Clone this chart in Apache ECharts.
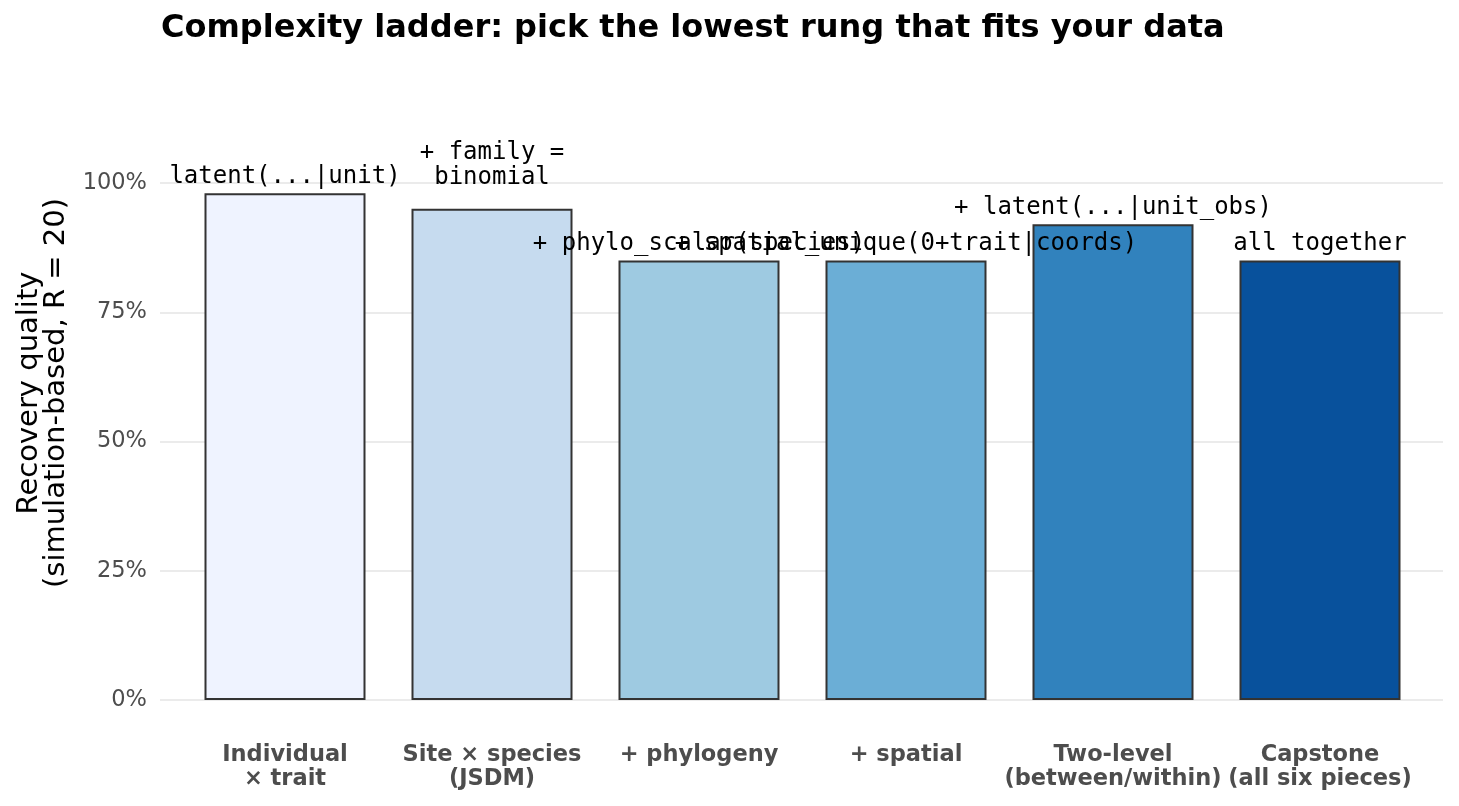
<!DOCTYPE html>
<html>
<head>
<meta charset="utf-8">
<script src="https://cdn.jsdelivr.net/npm/echarts@6/dist/echarts.min.js"></script>
<style>
html, body { margin: 0; padding: 0; background: #ffffff; }
#chart { width: 1459px; height: 806px; }
</style>
</head>
<body>
<div id="chart"></div>
<script>
// ---- data ----
const categories = [
  "Individual\n× trait",
  "Site × species\n(JSDM)",
  "+ phylogeny",
  "+ spatial",
  "Two-level\n(between/within)",
  "Capstone\n(all six pieces)"
];
const recovery = [0.98, 0.95, 0.85, 0.85, 0.92, 0.85];
const syntaxLabels = [
  "latent(...|unit)",
  "+ family =\nbinomial",
  "+ phylo_scalar(species)",
  "+ spatial_unique(0+trait|coords)",
  "+ latent(...|unit_obs)",
  "all together"
];
const yTicks = [0, 0.25, 0.5, 0.75, 1];
const yTitle = "Recovery quality\n(simulation-based, R = 20)";

// ---- styling ----
const barColors = ["#eff3ff", "#c6dbef", "#9ecae1", "#6baed6", "#3182bd", "#08519c"];
const SANS = "DejaVu Sans";
const MONO = "DejaVu Sans Mono";

const chart = echarts.init(document.getElementById('chart'), null, { renderer: 'canvas' });

const barData = recovery.map((v, i) => {
  const lines = syntaxLabels[i].split("\n").length;
  return {
    value: v,
    itemStyle: { color: barColors[i] },
    label: { distance: 4 + (lines - 1) * 15 }
  };
});

const option = {
  animation: false,
  backgroundColor: "#ffffff",
  title: {
    text: "Complexity ladder: pick the lowest rung that fits your data",
    left: 161,
    top: 13,
    padding: 0,
    textStyle: { fontFamily: SANS, fontWeight: "bold", fontSize: 32, color: "#000000" }
  },
  graphic: [
    {
      type: "text",
      x: 43,
      y: 393,
      rotation: Math.PI / 2,
      style: {
        text: yTitle,
        fontFamily: SANS,
        fontSize: 29,
        lineHeight: 27,
        fill: "#000000",
        align: "center",
        verticalAlign: "middle"
      }
    }
  ],
  grid: [
    { left: 181.5, right: 35.5, top: 183, bottom: 106, containLabel: false },
    { left: 160, right: 16, top: 183, bottom: 106, containLabel: false }
  ],
  xAxis: [
    {
      type: "category",
      gridIndex: 0,
      data: categories,
      axisLine: { show: false },
      axisTick: { show: false },
      splitLine: { show: false },
      axisLabel: {
        interval: 0,
        margin: 43,
        fontFamily: SANS,
        fontWeight: "bold",
        fontSize: 22.5,
        lineHeight: 24,
        color: "#4d4d4d"
      }
    },
    {
      type: "value",
      gridIndex: 1,
      show: false,
      min: 0,
      max: 1
    }
  ],
  yAxis: [
    {
      type: "value",
      gridIndex: 0,
      min: 0,
      max: 1,
      show: false
    },
    {
      type: "value",
      gridIndex: 1,
      min: yTicks[0],
      max: yTicks[yTicks.length - 1],
      interval: yTicks[1] - yTicks[0],
      axisLine: { show: false },
      axisTick: { show: false },
      splitLine: { show: true, lineStyle: { color: "#ebebeb", width: 2 } },
      axisLabel: {
        margin: 13,
        fontFamily: SANS,
        fontSize: 22.5,
        color: "#4d4d4d",
        formatter: v => Math.round(v * 100) + "%"
      }
    }
  ],
  series: [
    {
      type: "bar",
      xAxisIndex: 0,
      yAxisIndex: 0,
      barWidth: 161,
      data: barData,
      itemStyle: { borderColor: "#333333", borderWidth: 2 },
      z: 3,
      label: {
        show: true,
        position: "top",
        formatter: p => syntaxLabels[p.dataIndex],
        fontFamily: MONO,
        fontSize: 24,
        lineHeight: 25,
        color: "#000000",
        align: "center"
      },
      labelLayout: { hideOverlap: false }
    }
  ]
};
chart.setOption(option);
</script>
</body>
</html>
